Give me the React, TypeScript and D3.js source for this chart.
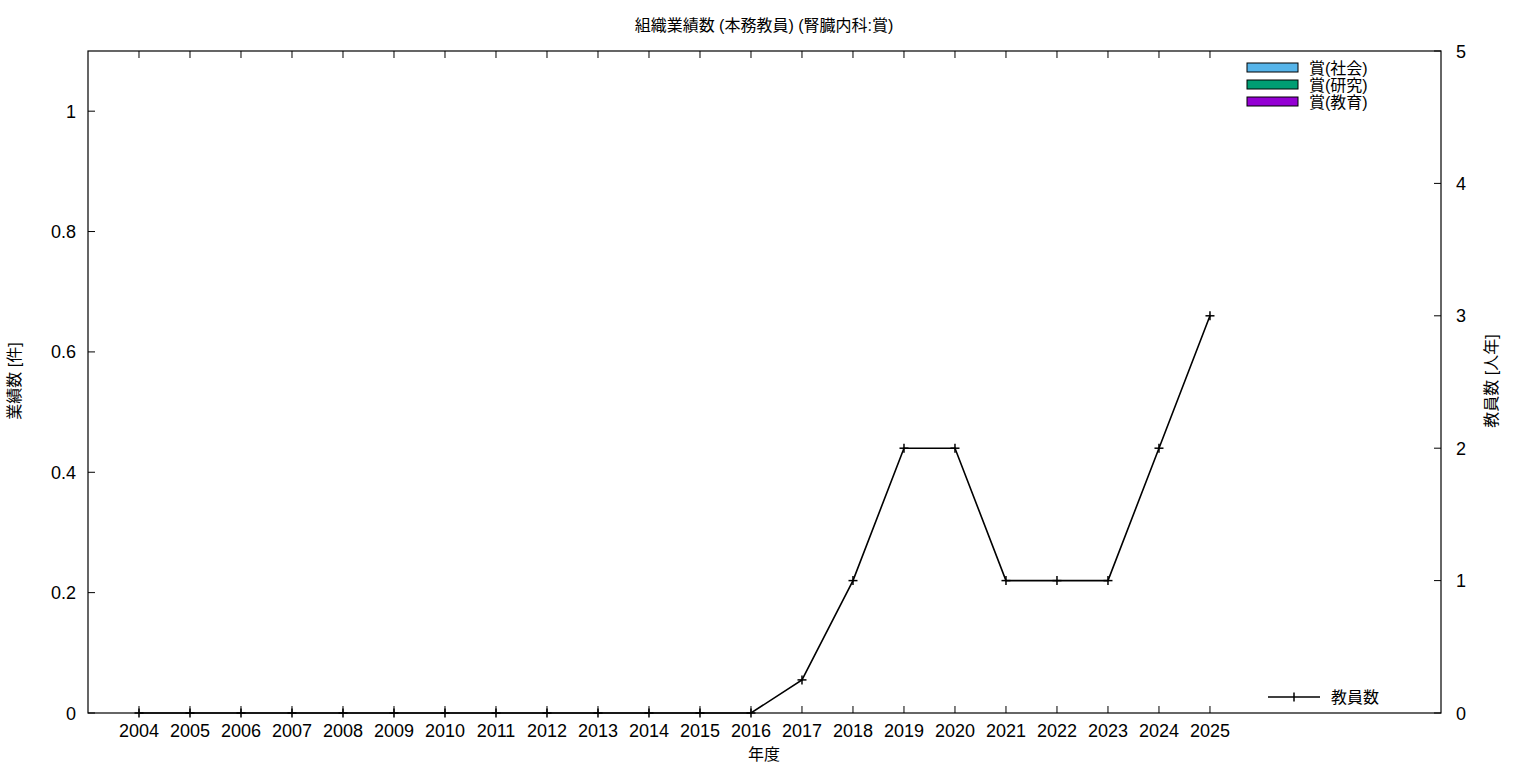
import React from "react";
import * as d3 from "d3";

const years = [2004, 2005, 2006, 2007, 2008, 2009, 2010, 2011, 2012, 2013, 2014, 2015, 2016, 2017, 2018, 2019, 2020, 2021, 2022, 2023, 2024, 2025];
const staff = [0, 0, 0, 0, 0, 0, 0, 0, 0, 0, 0, 0, 0, 0.25, 1, 2, 2, 1, 1, 1, 2, 3];
const leftTicks = [0, 0.2, 0.4, 0.6, 0.8, 1];
const rightTicks = [0, 1, 2, 3, 4, 5];
const barSeries = ["賞(社会)", "賞(研究)", "賞(教育)"];
const barColors = ["#56b4e9", "#009e73", "#9400d3"];

const W = 1536, H = 768;
const L = 88, R = 1441, T = 51, B = 713;
const FONT = "'Liberation Sans', Arial, 'Noto Sans CJK JP', sans-serif";

export default function App() {
  const x = d3.scaleLinear().domain([2003, 2029.53]).range([L, R]);
  const yL = d3.scaleLinear().domain([0, 1.1]).range([B, T]);
  const yR = d3.scaleLinear().domain([0, 5]).range([B, T]);
  const line = d3.line<number>().x((_, i) => x(years[i])).y((d) => yR(d));
  const pts = staff.map((v, i) => [x(years[i]), yR(v)]);
  const tk = 7;
  return (
    <svg width={W} height={H} style={{ position: "absolute", left: 0, top: 0, background: "#fff" }} fontFamily={FONT}>
      <rect x={0} y={0} width={W} height={H} fill="#fff" />
      <text x={764} y={31} textAnchor="middle" fontSize={16}>組織業績数 (本務教員) (腎臓内科:賞)</text>
      {/* frame */}
      <rect x={L} y={T} width={R - L} height={B - T} fill="none" stroke="#000" strokeWidth={1.2} />
      {/* left ticks */}
      {leftTicks.map((v) => (
        <g key={"l" + v}>
          <line x1={L} x2={L + tk} y1={yL(v)} y2={yL(v)} stroke="#000" strokeWidth={1} />
          <text x={76} y={yL(v) + 6.5} textAnchor="end" fontSize={18}>{v === 0 ? "0" : d3.format("")(v)}</text>
        </g>
      ))}
      {/* right ticks */}
      {rightTicks.map((v) => (
        <g key={"r" + v}>
          <line x1={R - tk} x2={R} y1={yR(v)} y2={yR(v)} stroke="#000" strokeWidth={1} />
          <text x={1456} y={yR(v) + 6.5} textAnchor="start" fontSize={18}>{v}</text>
        </g>
      ))}
      {/* x ticks */}
      {years.map((yv) => (
        <g key={"x" + yv}>
          <line x1={x(yv)} x2={x(yv)} y1={B} y2={B - tk} stroke="#000" strokeWidth={1} />
          <line x1={x(yv)} x2={x(yv)} y1={T} y2={T + tk} stroke="#000" strokeWidth={1} />
          <text x={x(yv)} y={737} textAnchor="middle" fontSize={18}>{yv}</text>
        </g>
      ))}
      <text x={764} y={760} textAnchor="middle" fontSize={16}>年度</text>
      <text transform={`translate(20,381) rotate(-90)`} textAnchor="middle" fontSize={16}>業績数 [件]</text>
      <text transform={`translate(1497,381) rotate(-90)`} textAnchor="middle" fontSize={16}>教員数 [人年]</text>
      {/* line */}
      <path d={line(staff) || ""} fill="none" stroke="#000" strokeWidth={1.6} />
      {pts.map(([px, py], i) => (
        <g key={"m" + i} stroke="#000" strokeWidth={1.5}>
          <line x1={px - 4.5} x2={px + 4.5} y1={py} y2={py} />
          <line x1={px} x2={px} y1={py - 4.5} y2={py + 4.5} />
        </g>
      ))}
      {/* bar legend */}
      {barSeries.map((s, i) => (
        <g key={s}>
          <rect x={1247} y={63 + i * 17} width={51} height={9} fill={barColors[i]} stroke="#000" strokeWidth={1} />
          <text x={1309} y={73.5 + i * 17} fontSize={16}>{s}</text>
        </g>
      ))}
      {/* line legend */}
      <line x1={1268} x2={1320} y1={697} y2={697} stroke="#000" strokeWidth={1.6} />
      <line x1={1294} x2={1294} y1={692.5} y2={701.5} stroke="#000" strokeWidth={1.5} />
      <text x={1331} y={703} fontSize={16}>教員数</text>
    </svg>
  );
}
